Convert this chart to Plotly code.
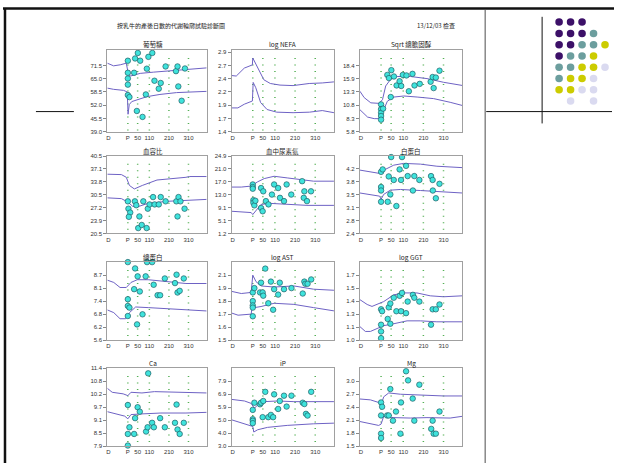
import plotly.graph_objects as go

W, H = 618, 466

# ---------------- shared x axis (days after calving) ----------------
x_tick_vals = [-100, 0, 50, 110, 210, 310]
x_tick_text = ["D", "P", "50", "110", "210", "310"]
guide_days = [0, 50, 110, 210, 310]
x_range = [-105, 403]

main_title = "按乳牛的產後日數的代謝輪廓試驗診斷圖"
date_text = "13/12/03 檢查"

# ---------------- 1 葡萄糖 ----------------
glu_title = "葡萄糖"
glu_base, glu_step = 39.0, 6.5
glu_labels = ["39.0", "45.5", "52.0", "58.5", "65.0", "71.5"]
glu_days = [0, 0, 0, 0, 0, 8, 32, 37, 51, 63, 46, 75, 97, 105, 125, 92, 136, 168, 158, 193, 246, 254, 258, 275, 292]
glu_vals = [73.8, 67.9, 65.1, 62.1, 57.0, 56.0, 67.9, 74.9, 77.6, 73.8, 49.2, 46.3, 69.9, 75.7, 77.6, 57.3, 64.0, 62.9, 60.1, 71.0, 68.7, 71.0, 61.2, 54.2, 70.0]
glu_up_days = [-105, -73, -39, -8, 2, 12, 29, 63, 130, 215, 300, 403]
glu_up_vals = [72.6, 71.3, 71.8, 72.6, 67.5, 66.3, 66.7, 67.6, 68.2, 68.7, 69.5, 70.3]
glu_lo_days = [-105, -73, -22, -3, 1, 7, 20, 46, 97, 164, 249, 403]
glu_lo_vals = [60.4, 59.8, 59.3, 58.5, 47.6, 52.3, 53.8, 54.6, 56.2, 57.3, 58.2, 58.8]

# ---------------- 2 log NEFA ----------------
nefa_title = "log NEFA"
nefa_base, nefa_step = 1.4, 0.25
nefa_labels = ["1.4", "1.7", "1.9", "2.2", "2.4", "2.7", "2.9"]
nefa_days = []
nefa_vals = []
nefa_up_days = [-105, -82, -42, -10, -2, 0, 31, 55, 87, 135, 200, 248, 280, 345, 403]
nefa_up_vals = [2.46, 2.45, 2.60, 2.64, 2.66, 2.79, 2.57, 2.38, 2.31, 2.28, 2.27, 2.29, 2.31, 2.32, 2.34]
nefa_lo_days = [-105, -74, -42, -10, -2, 2, 15, 39, 71, 119, 200, 281, 345, 403]
nefa_lo_vals = [1.85, 1.85, 1.92, 1.98, 1.98, 2.33, 2.23, 1.95, 1.82, 1.77, 1.76, 1.77, 1.80, 1.76]

# ---------------- 3 Sqrt 總膽固醇 ----------------
chol_title = "Sqrt 總膽固醇"
chol_base, chol_step = 5.8, 2.52
chol_labels = ["5.8", "8.3", "10.8", "13.3", "15.9", "18.4"]
chol_days = [0, 0, 0, 0, 0, 10, 31, 39, 51, 64, 48, 77, 92, 100, 108, 126, 156, 138, 166, 192, 246, 256, 272, 261, 290]
chol_vals = [11.0, 10.1, 9.4, 8.8, 8.1, 10.2, 16.6, 16.0, 17.5, 16.3, 12.4, 14.6, 15.4, 14.5, 16.6, 16.5, 16.8, 13.5, 14.6, 14.9, 15.3, 16.2, 16.1, 14.1, 17.4]
chol_up_days = [-105, -84, -51, -10, 7, 23, 48, 80, 146, 228, 310, 403]
chol_up_vals = [13.5, 12.3, 11.3, 11.2, 11.9, 14.5, 15.8, 16.3, 16.3, 15.9, 15.2, 14.6]
chol_lo_days = [-105, -67, -34, -5, 7, 31, 64, 113, 179, 261, 343, 403]
chol_lo_vals = [10.0, 8.6, 8.3, 8.3, 9.4, 11.6, 12.4, 12.6, 12.4, 12.1, 11.4, 10.8]

# ---------------- 4 血容比 ----------------
hct_title = "血容比"
hct_base, hct_step = 20.5, 3.333
hct_labels = ["20.5", "23.9", "27.2", "30.5", "33.8", "37.1", "40.5"]
hct_days = [0, 3, 12, 5, 36, 43, 59, 53, 71, 79, 96, 102, 111, 129, 137, 158, 168, 193, 248, 259, 269, 254, 290]
hct_vals = [28.8, 26.9, 25.9, 24.8, 28.8, 27.8, 24.9, 21.9, 22.7, 28.8, 21.9, 26.9, 28.0, 29.9, 28.0, 28.0, 29.9, 28.8, 28.8, 29.9, 28.8, 24.9, 26.9]
hct_up_days = [-105, -33, -8, 8, 33, 74, 149, 231, 297, 314, 403]
hct_up_vals = [35.8, 35.7, 35.0, 32.9, 32.0, 32.9, 34.3, 34.6, 35.0, 35.2, 35.2]
hct_lo_days = [-105, -33, 0, 25, 50, 99, 198, 297, 403]
hct_lo_vals = [29.7, 29.5, 28.6, 27.5, 27.4, 28.2, 28.8, 29.1, 29.3]

# ---------------- 5 血中尿素氮 ----------------
bun_title = "血中尿素氮"
bun_base, bun_step = 1.2, 3.95
bun_labels = ["1.2", "5.1", "9.1", "13.0", "17.0", "21.0", "24.9"]
bun_days = [0, 0, 0, 3, 3, 8, 13, 41, 49, 41, 52, 65, 78, 95, 106, 126, 135, 155, 168, 191, 245, 256, 253, 269, 289]
bun_vals = [16.2, 15.4, 14.9, 11.4, 10.6, 9.8, 11.2, 9.0, 8.0, 15.1, 14.1, 11.1, 10.1, 13.1, 16.2, 15.1, 12.1, 11.1, 16.2, 13.1, 17.2, 14.1, 12.1, 11.1, 14.1]
bun_up_days = [-105, -57, -8, 24, 57, 106, 171, 237, 302, 403]
bun_up_vals = [15.4, 15.4, 15.7, 17.0, 18.0, 18.7, 18.2, 17.8, 17.2, 17.2]
bun_lo_days = [-105, -41, -8, 0, 16, 41, 90, 171, 269, 403]
bun_lo_vals = [8.0, 7.8, 7.6, 7.0, 8.3, 10.1, 10.4, 10.2, 9.8, 9.8]

# ---------------- 6 白蛋白 ----------------
alb_title = "白蛋白"
alb_base, alb_step = 2.4, 0.3667
alb_labels = ["2.4", "2.8", "3.1", "3.5", "3.8", "4.2"]
alb_days = [0, 8, 0, 0, 0, 33, 38, 46, 63, 50, 76, 92, 99, 104, 124, 132, 158, 165, 190, 248, 256, 257, 272, 290]
alb_vals = [4.15, 4.22, 3.72, 3.62, 3.30, 3.30, 4.02, 3.51, 3.92, 4.57, 3.18, 4.22, 3.92, 4.57, 4.32, 4.03, 3.62, 4.03, 3.92, 4.03, 3.92, 3.62, 3.40, 3.81]
alb_up_days = [-105, -53, -12, 21, 63, 112, 195, 277, 403]
alb_up_vals = [4.20, 4.14, 4.11, 4.22, 4.34, 4.39, 4.37, 4.31, 4.27]
alb_lo_days = [-105, -36, -7, 0, 13, 46, 96, 195, 294, 403]
alb_lo_vals = [3.55, 3.49, 3.46, 3.37, 3.51, 3.63, 3.65, 3.62, 3.58, 3.55]

# ---------------- 7 總蛋白 ----------------
tp_title = "總蛋白"
tp_base, tp_step = 5.6, 0.62
tp_labels = ["5.6", "6.2", "6.8", "7.4", "8.1", "8.7"]
tp_days = [0, 0, 0, 8, 0, 37, 32, 50, 61, 47, 75, 91, 98, 124, 132, 152, 165, 189, 241, 249, 254, 265, 286]
tp_vals = [9.32, 7.55, 7.23, 7.15, 6.75, 9.02, 8.03, 8.64, 7.92, 6.35, 6.83, 8.64, 9.32, 9.32, 8.24, 7.74, 7.74, 8.54, 8.32, 8.72, 7.87, 7.95, 8.54]
tp_up_days = [-105, -72, -40, -8, 16, 48, 104, 201, 297, 403]
tp_up_vals = [8.46, 8.35, 8.11, 8.11, 8.35, 8.48, 8.48, 8.38, 8.30, 8.30]
tp_lo_days = [-105, -72, -40, -11, 8, 40, 104, 201, 297, 403]
tp_lo_vals = [7.04, 6.91, 6.62, 6.62, 6.91, 7.18, 7.15, 7.10, 7.02, 6.99]

# ---------------- 8 log AST ----------------
ast_title = "log AST"
ast_base, ast_step = 1.5, 0.12
ast_labels = ["1.5", "1.6", "1.7", "1.8", "1.9", "2.1"]
ast_days = [0, 0, 0, 0, 0, 8, 36, 41, 49, 52, 62, 77, 90, 101, 106, 126, 134, 155, 168, 192, 248, 256, 261, 272, 290]
ast_vals = [1.94, 1.86, 1.82, 1.80, 1.72, 1.98, 1.94, 2.03, 1.94, 1.91, 2.16, 1.84, 2.04, 1.78, 1.97, 1.92, 2.03, 1.97, 2.22, 1.98, 1.93, 2.04, 2.02, 2.02, 2.06]
ast_up_days = [-105, -57, -8, 0, 16, 41, 106, 204, 302, 403]
ast_up_vals = [1.95, 1.93, 1.94, 2.10, 2.04, 2.00, 1.99, 2.00, 1.97, 1.96]
ast_lo_days = [-105, -73, -8, 0, 8, 41, 106, 204, 302, 403]
ast_lo_vals = [1.75, 1.73, 1.74, 1.85, 1.80, 1.81, 1.84, 1.83, 1.80, 1.77]

# ---------------- 9 log GGT ----------------
ggt_title = "log GGT"
ggt_base, ggt_step = 1.0, 0.135
ggt_labels = ["1.0", "1.1", "1.3", "1.4", "1.5", "1.7"]
ggt_days = [0, 5, 0, 0, 0, 33, 38, 46, 46, 63, 76, 92, 99, 104, 124, 132, 158, 165, 190, 248, 256, 272, 290]
ggt_vals = [1.32, 1.30, 1.16, 1.09, 1.02, 1.22, 1.34, 1.38, 1.17, 1.44, 1.30, 1.46, 1.30, 1.49, 1.28, 1.40, 1.47, 1.44, 1.40, 1.16, 1.32, 1.32, 1.37]
ggt_up_days = [-105, -69, -45, -20, 13, 63, 112, 178, 244, 310, 403]
ggt_up_vals = [1.42, 1.37, 1.35, 1.37, 1.40, 1.47, 1.49, 1.49, 1.46, 1.45, 1.46]
ggt_lo_days = [-105, -78, -53, -20, 13, 63, 129, 195, 277, 403]
ggt_lo_vals = [1.14, 1.09, 1.09, 1.12, 1.15, 1.17, 1.20, 1.20, 1.19, 1.19]

# ---------------- 10 Ca ----------------
ca_title = "Ca"
ca_base, ca_step = 7.9, 0.5833
ca_labels = ["7.9", "8.5", "9.1", "9.7", "10.2", "10.8", "11.4"]
ca_days = [0, 8, 0, 0, 32, 37, 50, 61, 93, 101, 104, 124, 133, 165, 189, 241, 249, 254, 265, 286]
ca_vals = [9.75, 8.75, 8.45, 7.93, 8.45, 9.16, 9.65, 9.45, 8.56, 8.75, 11.17, 8.95, 8.75, 9.16, 8.75, 8.95, 9.77, 8.65, 8.45, 8.95]
ca_up_days = [-105, -80, -24, 0, 16, 72, 136, 233, 403]
ca_up_vals = [10.50, 10.32, 10.25, 10.17, 10.32, 10.29, 10.35, 10.32, 10.29]
ca_lo_days = [-105, -56, -16, 0, 16, 72, 169, 297, 403]
ca_lo_vals = [9.45, 9.35, 9.25, 9.13, 9.32, 9.35, 9.39, 9.39, 9.42]

# ---------------- 11 iP ----------------
ip_title = "iP"
ip_base, ip_step = 3.0, 0.98
ip_labels = ["3.0", "4.0", "5.0", "5.9", "6.9", "7.9"]
ip_days = [0, 0, 0, 0, 8, 36, 41, 52, 49, 62, 77, 90, 101, 106, 126, 134, 155, 168, 192, 248, 256, 264, 272, 290]
ip_vals = [5.74, 5.04, 4.92, 4.74, 6.28, 6.16, 6.28, 6.41, 5.19, 7.10, 5.19, 5.36, 5.19, 6.91, 5.81, 6.41, 6.81, 5.99, 6.81, 6.28, 6.18, 5.44, 5.31, 7.10]
ip_up_days = [-105, -41, -8, 8, 24, 57, 122, 204, 403]
ip_up_vals = [6.53, 6.41, 6.23, 5.86, 6.11, 6.36, 6.41, 6.36, 6.36]
ip_lo_days = [-105, -57, -16, 0, 5, 24, 73, 171, 302, 403]
ip_lo_vals = [4.99, 4.74, 4.57, 4.49, 4.07, 4.24, 4.42, 4.57, 4.69, 4.74]

# ---------------- 12 Mg ----------------
mg_title = "Mg"
mg_base, mg_step = 1.5, 0.3
mg_labels = ["1.5", "1.8", "2.1", "2.4", "2.7", "3.0"]
mg_days = [0, 5, 0, 0, 0, 30, 38, 46, 59, 74, 96, 99, 124, 134, 157, 165, 190, 249, 256, 261, 272, 290]
mg_vals = [2.51, 2.41, 2.21, 1.79, 1.69, 2.21, 2.21, 2.82, 2.09, 2.30, 1.79, 2.51, 3.23, 3.02, 2.60, 2.09, 2.92, 1.90, 2.09, 1.79, 1.79, 2.30]
mg_up_days = [-105, -53, -12, 0, 13, 38, 96, 195, 310, 403]
mg_up_vals = [2.59, 2.57, 2.51, 2.45, 2.64, 2.73, 2.70, 2.68, 2.66, 2.66]
mg_lo_days = [-105, -53, -12, 0, 13, 63, 145, 228, 343, 403]
mg_lo_vals = [2.07, 2.01, 1.98, 2.01, 2.19, 2.16, 2.15, 2.16, 2.15, 2.19]

panels = [
    (glu_title, glu_base, glu_step, glu_labels, glu_days, glu_vals, glu_up_days, glu_up_vals, glu_lo_days, glu_lo_vals),
    (nefa_title, nefa_base, nefa_step, nefa_labels, nefa_days, nefa_vals, nefa_up_days, nefa_up_vals, nefa_lo_days, nefa_lo_vals),
    (chol_title, chol_base, chol_step, chol_labels, chol_days, chol_vals, chol_up_days, chol_up_vals, chol_lo_days, chol_lo_vals),
    (hct_title, hct_base, hct_step, hct_labels, hct_days, hct_vals, hct_up_days, hct_up_vals, hct_lo_days, hct_lo_vals),
    (bun_title, bun_base, bun_step, bun_labels, bun_days, bun_vals, bun_up_days, bun_up_vals, bun_lo_days, bun_lo_vals),
    (alb_title, alb_base, alb_step, alb_labels, alb_days, alb_vals, alb_up_days, alb_up_vals, alb_lo_days, alb_lo_vals),
    (tp_title, tp_base, tp_step, tp_labels, tp_days, tp_vals, tp_up_days, tp_up_vals, tp_lo_days, tp_lo_vals),
    (ast_title, ast_base, ast_step, ast_labels, ast_days, ast_vals, ast_up_days, ast_up_vals, ast_lo_days, ast_lo_vals),
    (ggt_title, ggt_base, ggt_step, ggt_labels, ggt_days, ggt_vals, ggt_up_days, ggt_up_vals, ggt_lo_days, ggt_lo_vals),
    (ca_title, ca_base, ca_step, ca_labels, ca_days, ca_vals, ca_up_days, ca_up_vals, ca_lo_days, ca_lo_vals),
    (ip_title, ip_base, ip_step, ip_labels, ip_days, ip_vals, ip_up_days, ip_up_vals, ip_lo_days, ip_lo_vals),
    (mg_title, mg_base, mg_step, mg_labels, mg_days, mg_vals, mg_up_days, mg_up_vals, mg_lo_days, mg_lo_vals),
]

# ---------------- layout geometry (pixels) ----------------
col_px = [(106.5, 206.0), (231.0, 333.5), (359.5, 462.0)]
row_px = [(47.5, 130.5), (155.0, 233.5), (262.5, 341.5), (370.0, 449.0)]
row_steps = [6.17, 6.0, 6.0, 6.0]

def fx(px):
    return px / W

def fy(py):
    return 1 - py / H

FONT = "Liberation Sans, Arial, Noto Sans CJK TC, sans-serif"
CJK = "Noto Sans CJK TC, Liberation Sans, sans-serif"
LINE_C = "#6e62c4"
DOT_C = "#55b055"
FRAME_C = "#a0a0a0"

fig = go.Figure()
layout = dict(
    width=W, height=H,
    margin=dict(l=0, r=0, t=0, b=0),
    paper_bgcolor="white",
    plot_bgcolor="white",
    showlegend=False,
    font=dict(family=FONT, size=6, color="#222"),
)
shapes = []
annotations = []

for i, p in enumerate(panels):
    title, base, step, labels, days, vals, ud, uv, ld, lv = p
    r, c = divmod(i, 3)
    n = "" if i == 0 else str(i + 1)
    x0, x1 = col_px[c]
    y0, y1 = row_px[r]
    xa = "xaxis" + n
    ya = "yaxis" + n
    layout[xa] = dict(
        domain=[fx(x0), fx(x1)], anchor="y" + n, range=x_range,
        tickmode="array", tickvals=x_tick_vals, ticktext=x_tick_text,
        showgrid=False, zeroline=False, showline=True, mirror=True,
        linecolor=FRAME_C, linewidth=1, ticks="", tickfont=dict(size=6, color="#333"),
        fixedrange=True,
    )
    layout[ya] = dict(
        domain=[fy(y1), fy(y0)], anchor="x" + n,
        range=[base, base + row_steps[r] * step],
        tickmode="array", tickvals=[base + k * step for k in range(len(labels))], ticktext=labels,
        showgrid=False, zeroline=False, showline=True, mirror=True,
        linecolor=FRAME_C, linewidth=1, ticks="outside", ticklen=3, tickcolor="#888",
        tickfont=dict(size=6, color="#333"), fixedrange=True,
    )
    for gd in guide_days:
        shapes.append(dict(type="line", xref="x" + n, yref="y" + n + " domain", x0=gd, x1=gd, y0=0.9, y1=0.0,
                           line=dict(color=DOT_C, width=1.5, dash="1px,5.5px"), layer="below"))
    fig.add_trace(go.Scatter(x=ud, y=uv, mode="lines", line=dict(color=LINE_C, width=1),
                             xaxis="x" + n, yaxis="y" + n, hoverinfo="skip"))
    fig.add_trace(go.Scatter(x=ld, y=lv, mode="lines", line=dict(color=LINE_C, width=1),
                             xaxis="x" + n, yaxis="y" + n, hoverinfo="skip"))
    if days:
        fig.add_trace(go.Scatter(x=days, y=vals, mode="markers", cliponaxis=False,
                                 marker=dict(size=5.5, color="#3fe3dc", line=dict(color="#1f5f66", width=0.7)),
                                 xaxis="x" + n, yaxis="y" + n))
    cx = (x0 + x1) / 2 - (4 if c == 0 else 0)
    annotations.append(dict(text=title, x=fx(cx), y=fy(y0 - 5.5), xref="paper", yref="paper",
                            xanchor="center", yanchor="middle", showarrow=False,
                            font=dict(family=CJK, size=6.5, color="#222")))

annotations.append(dict(text=main_title, x=fx(170), y=fy(22.5), xref="paper", yref="paper",
                        xanchor="center", yanchor="middle", showarrow=False,
                        font=dict(family=CJK, size=6, color="#222")))
annotations.append(dict(text=date_text, x=fx(436), y=fy(22.5), xref="paper", yref="paper",
                        xanchor="center", yanchor="middle", showarrow=False,
                        font=dict(family=CJK, size=6, color="#222")))

# ---------------- slide frame lines ----------------
def pline(xa, ya, xb, yb, color, width):
    shapes.append(dict(type="line", xref="paper", yref="paper", x0=fx(xa), y0=fy(ya), x1=fx(xb), y1=fy(yb),
                       line=dict(color=color, width=width)))

pline(2, 5.5, 614, 5.5, "#111", 2.5)
pline(4, 5, 4, 466, "#111", 2.5)
pline(485, 7, 485, 466, "#888", 1.5)
pline(542, 14, 542, 122, "#111", 1)
pline(486, 110, 612, 110, "#111", 1)
pline(35, 110, 73, 110, "#111", 1)

# ---------------- decorative dot grid ----------------
dot_colors = {"P": "#3c1068", "T": "#6c9e9e", "Y": "#cccc00", "L": "#dadaf0"}
dot_rows = [
    ["P", "P", "P"],
    ["P", "P", "P", "T"],
    ["P", "P", "T", "T", "Y"],
    ["P", "T", "T", "Y"],
    ["T", "T", "Y", "Y", "L"],
    ["T", "Y", "Y", "L"],
    ["Y", "Y", "L", "L"],
    [None, "L", None, "L"],
]
dot_x = [559, 570.5, 582, 593.5, 605]
dot_y = [19.3, 31, 42.3, 53.7, 65, 76.5, 88, 99.3]
rad = 3.8
for ri, row in enumerate(dot_rows):
    for ci, key in enumerate(row):
        if key is None:
            continue
        cxp, cyp = dot_x[ci], dot_y[ri]
        shapes.append(dict(type="circle", xref="paper", yref="paper",
                           x0=fx(cxp - rad), x1=fx(cxp + rad), y0=fy(cyp + rad), y1=fy(cyp - rad),
                           fillcolor=dot_colors[key], line=dict(width=0)))

layout["shapes"] = shapes
layout["annotations"] = annotations
fig.update_layout(**layout)
fig.write_html("out.html", config={"displayModeBar": False, "staticPlot": True},
               post_script="document.body.style.margin='0';document.body.style.overflow='hidden';")
